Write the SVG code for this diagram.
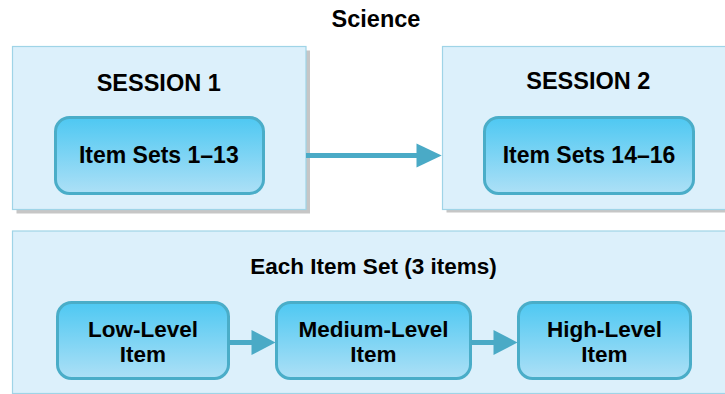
<svg xmlns="http://www.w3.org/2000/svg" width="725" height="394" viewBox="0 0 725 394">
<style>
.t{font-family:"Liberation Sans",Arial,sans-serif;font-weight:bold;fill:#000;text-anchor:middle}
.outer{fill:#dcf0fb;stroke:#9fd4e7;stroke-width:1.2}
.shadow{fill:#c6c6c6}
.inner{fill:url(#g);stroke:#4aadc8;stroke-width:3}
.conn{stroke:#4aaac6;stroke-width:5;fill:none}
.head{fill:#4aaac6}
</style>
<defs>
<linearGradient id="g" x1="0" y1="0" x2="0" y2="1">
<stop offset="0" stop-color="#4ec8f2"/>
<stop offset="1" stop-color="#ade0f6"/>
</linearGradient>
</defs>
<text class="t" x="376" y="26.5" font-size="23.5">Science</text>
<g id="session1">
<rect class="shadow" x="16.5" y="50.5" width="293.5" height="163"/>
<rect class="outer" x="12.5" y="46.5" width="293.5" height="163"/>
<text class="t" x="158.7" y="90.5" font-size="23.5">SESSION 1</text>
</g>
<g id="session2">
<rect class="shadow" x="446.5" y="50.5" width="300" height="162"/>
<rect class="outer" x="442.5" y="46.5" width="300" height="163"/>
<text class="t" x="588.3" y="89" font-size="23.5">SESSION 2</text>
</g>
<g id="itemsets1">
<rect class="inner" x="55.5" y="117.5" width="208" height="76" rx="14"/>
<text class="t" x="158.8" y="163.3" font-size="23">Item Sets 1–13</text>
</g>
<g id="itemsets2">
<rect class="inner" x="484.5" y="117.5" width="209" height="76" rx="14"/>
<text class="t" x="589" y="163.3" font-size="23">Item Sets 14–16</text>
</g>
<g id="eachset">
<rect class="outer" x="12.5" y="231" width="720" height="162.5"/>
<text class="t" x="373.5" y="274" font-size="22.5">Each Item Set (3 items)</text>
</g>
<g id="low">
<rect class="inner" x="57.5" y="302.5" width="171" height="76" rx="14"/>
<text class="t" x="143" y="337.3" font-size="22.5">Low-Level</text>
<text class="t" x="143" y="361.7" font-size="22.5">Item</text>
</g>
<g id="medium">
<rect class="inner" x="276.5" y="302.5" width="194" height="76" rx="14"/>
<text class="t" x="373.5" y="337.3" font-size="22.5">Medium-Level</text>
<text class="t" x="373.5" y="361.7" font-size="22.5">Item</text>
</g>
<g id="high">
<rect class="inner" x="518.5" y="302.5" width="172" height="76" rx="14"/>
<text class="t" x="604.5" y="337.3" font-size="22.5">High-Level</text>
<text class="t" x="604.5" y="361.7" font-size="22.5">Item</text>
</g>
<g id="connectors">
<line class="conn" x1="306" y1="155.5" x2="418" y2="155.5"/>
<polygon class="head" points="416.5,143.5 441.7,155.5 416.5,167.5"/>
<line class="conn" x1="229" y1="342.5" x2="253" y2="342.5"/>
<polygon class="head" points="251.5,330 275.5,342.5 251.5,355"/>
<line class="conn" x1="471" y1="342.5" x2="495" y2="342.5"/>
<polygon class="head" points="493.5,330 517.5,342.5 493.5,355"/>
</g>
</svg>
